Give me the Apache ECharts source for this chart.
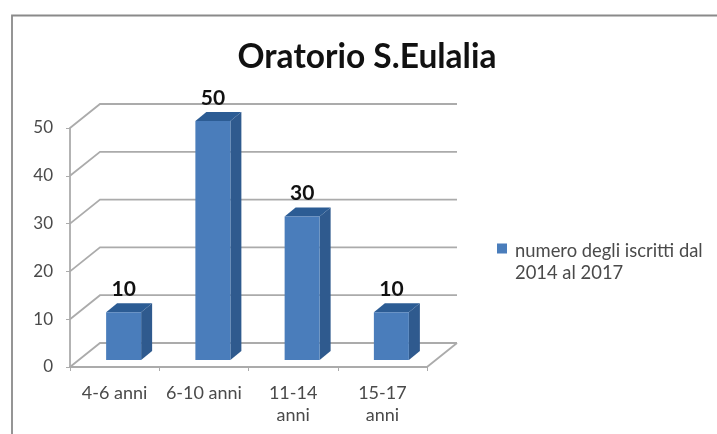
<!DOCTYPE html>
<html>
<head>
<meta charset="utf-8">
<style>html,body{margin:0;padding:0;background:#fff}#c{width:717px;height:434px}</style>
<script src="https://cdn.jsdelivr.net/npm/echarts@6/dist/echarts.min.js"></script>
</head>
<body>
<div id="c"></div>
<script>
const categories = ['4-6 anni', '6-10 anni', '11-14\nanni', '15-17\nanni'];
const values = [10, 50, 30, 10];
const yTicks = [0, 10, 20, 30, 40, 50];
const seriesName = 'numero degli iscritti dal\n2014 al 2017';
const titleText = 'Oratorio S.Eulalia';

const FONT = 'Lato, "Open Sans", sans-serif';
const DX = 30, DY = 24;          // wall depth
const BAR_W = 35, BAR_DX = 11, BAR_DY = 9, BAR_SHIFT = 9, BAR_LIFT = 7;
const GRID_COLOR = '#ababab';

const chart = echarts.init(document.getElementById('c'), null, {renderer: 'canvas'});

function renderWall(params, api) {
  const cs = params.coordSys;
  const v = api.value(0);
  const y = api.coord([0, v])[1];
  const children = [{
    type: 'polyline',
    shape: {points: [[cs.x, y], [cs.x + DX, y - DY], [cs.x + cs.width + DX, y - DY]]},
    style: {stroke: GRID_COLOR, lineWidth: 1.8, fill: null}
  }];
  if (v === 0) {
    children.push({
      type: 'line',
      shape: {x1: cs.x + cs.width, y1: y, x2: cs.x + cs.width + DX, y2: y - DY},
      style: {stroke: GRID_COLOR, lineWidth: 1.8}
    });
  }
  return {type: 'group', children};
}

function renderBar(params, api) {
  const idx = api.value(0);
  const top = api.coord([idx, api.value(1)]);
  const base = api.coord([idx, 0]);
  const l = top[0] + BAR_SHIFT - BAR_W / 2;
  const r = l + BAR_W;
  const t = top[1] - BAR_LIFT;
  const b = base[1] - BAR_LIFT;
  return {
    type: 'group',
    children: [
      {type: 'polygon',
       shape: {points: [[r, t], [r + BAR_DX, t - BAR_DY], [r + BAR_DX, b - BAR_DY], [r, b]]},
       style: {fill: '#2f5a8e'}},
      {type: 'polygon',
       shape: {points: [[l, t], [l + BAR_DX, t - BAR_DY], [r + BAR_DX, t - BAR_DY], [r, t]]},
       style: {fill: '#2c5c94'}},
      {type: 'rect',
       shape: {x: l, y: t, width: BAR_W, height: b - t},
       style: {fill: '#4a7dbb'}},
      {type: 'text',
       style: {
         x: l + BAR_W / 2, y: t - 23,
         text: String(api.value(1)),
         font: 'bold 21px ' + FONT,
         fill: '#111',
         align: 'center', verticalAlign: 'middle'
       }}
    ]
  };
}

chart.setOption({
  animation: false,
  backgroundColor: '#fff',
  title: {
    text: titleText,
    left: 362, top: 35, textAlign: 'center',
    textStyle: {fontFamily: FONT, fontSize: 33.5, fontWeight: 'bold', color: '#111'}
  },
  legend: {
    left: 492, top: 235,
    orient: 'vertical',
    itemWidth: 10, itemHeight: 37, itemGap: 6,
    icon: 'path://M0 0H10V10H0ZM0 37H0.01V37.01H0Z',
    data: [{name: seriesName, itemStyle: {color: '#4a7dbb'}}],
    textStyle: {fontFamily: FONT, fontSize: 18.4, color: '#4a4a4a', lineHeight: 22, padding: [0, 0, 0, 3]}
  },
  grid: {left: 70, top: 128, width: 357, height: 239},
  xAxis: {
    type: 'category',
    data: categories,
    axisLine: {lineStyle: {color: GRID_COLOR, width: 1.8}},
    axisTick: {show: true, length: 4, alignWithLabel: false, lineStyle: {color: GRID_COLOR}},
    axisLabel: {interval: 0, fontFamily: FONT, fontSize: 18, color: '#4a4a4a', lineHeight: 22, margin: 15}
  },
  yAxis: {
    type: 'value',
    min: 0, max: 50, interval: 10,
    axisLine: {show: true, lineStyle: {color: GRID_COLOR, width: 1.8}},
    axisTick: {show: true, length: 4, lineStyle: {color: GRID_COLOR}},
    axisLabel: {fontFamily: FONT, fontSize: 17, color: '#4a4a4a', margin: 17},
    splitLine: {show: false}
  },
  series: [
    {
      type: 'custom', name: 'walls', z: 1,
      coordinateSystem: 'cartesian2d',
      renderItem: renderWall,
      encode: {y: 0},
      data: yTicks.map(v => [v]),
      silent: true
    },
    {
      type: 'custom', name: seriesName, z: 3,
      coordinateSystem: 'cartesian2d',
      renderItem: renderBar,
      encode: {x: 0, y: 1},
      itemStyle: {color: '#4a7dbb'},
      data: values.map((v, i) => [i, v])
    }
  ],
  graphic: [
    {type: 'polyline', silent: true, z: 10,
     shape: {points: [[12, 434], [12, 15.5], [717, 15.5]]},
     style: {stroke: '#8a8a8a', lineWidth: 1.8, fill: null}}
  ]
});
</script>
</body>
</html>
